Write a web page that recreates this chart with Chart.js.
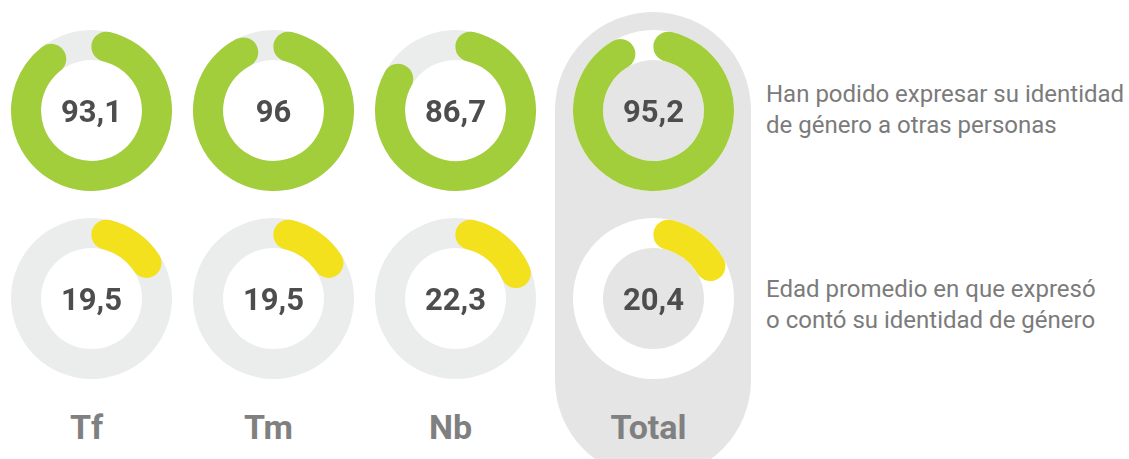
<!DOCTYPE html>
<html lang="es">
<head>
<meta charset="utf-8">
<script src="https://cdn.jsdelivr.net/npm/chart.js@4.4.1/dist/chart.umd.min.js"></script>
<style>
  html, body { margin: 0; padding: 0; background: #ffffff; }
  body { width: 1129px; height: 459px; position: relative; overflow: hidden; font-family: Roboto, "Noto Sans", sans-serif; }
  .pill { position: absolute; left: 555px; top: 12px; width: 196px; height: 466px; border-radius: 98px; background: #e5e5e5; }
  canvas.ring { position: absolute; }
  .grp { position: absolute; width: 140px; text-align: center; font-weight: 700; font-size: 34px; line-height: 34px; color: #808080; }
  .note { position: absolute; left: 766px; font-size: 24px; line-height: 31px; color: #7b7b7b; white-space: nowrap; }
</style>
</head>
<body>
<div class="pill"></div>
<div id="stage"></div>
<script>
// ---- data ----
const groups = ['Tf', 'Tm', 'Nb', 'Total'];
const expressedPct = [93.1, 96, 86.7, 95.2];       // % que han podido expresar su identidad
const avgAge = [19.5, 19.5, 22.3, 20.4];            // edad promedio
const scaleMax = 100;
const rowNotes = [
  ['Han podido expresar su identidad', 'de género a otras personas'],
  ['Edad promedio en que expresó', 'o contó su identidad de género']
];

// ---- layout / style ----
const colCenters = [91.5, 273.5, 455.5, 653.5];
const rowCenters = [110.5, 298.5];
const SIZE = 161;
const rowColors = ['#a3ce3b', '#f4e11e'];
const trackColor = '#ebecec';
const totalTrackColor = '#ffffff';

const trackPlugin = {
  id: 'track',
  beforeDatasetsDraw(chart, args, opts) {
    const arc = chart.getDatasetMeta(0).data[0];
    if (!arc) return;
    const { x, y, innerRadius, outerRadius } = arc.getProps(['x', 'y', 'innerRadius', 'outerRadius'], true);
    const ctx = chart.ctx;
    ctx.save();
    ctx.beginPath();
    ctx.arc(x, y, outerRadius, 0, Math.PI * 2);
    ctx.arc(x, y, innerRadius, 0, Math.PI * 2, true);
    ctx.closePath();
    ctx.fillStyle = opts.color;
    ctx.fill();
    ctx.restore();
  }
};

const centerTextPlugin = {
  id: 'centerText',
  afterDatasetsDraw(chart, args, opts) {
    const arc = chart.getDatasetMeta(0).data[0];
    if (!arc) return;
    const ctx = chart.ctx;
    ctx.save();
    ctx.font = '700 31px Roboto';
    ctx.fillStyle = '#4d4d4d';
    ctx.textAlign = 'center';
    ctx.textBaseline = 'alphabetic';
    ctx.fillText(opts.text, arc.x, arc.y + 11);
    ctx.restore();
  }
};

function fmt(v) { return String(v).replace('.', ','); }

const stage = document.getElementById('stage');
const rows = [expressedPct, avgAge];

rows.forEach((values, r) => {
  values.forEach((v, c) => {
    const cv = document.createElement('canvas');
    cv.className = 'ring';
    cv.width = SIZE; cv.height = SIZE;
    cv.style.left = (colCenters[c] - SIZE / 2) + 'px';
    cv.style.top = (rowCenters[r] - SIZE / 2) + 'px';
    stage.appendChild(cv);
    const isTotal = groups[c] === 'Total';
    new Chart(cv, {
      type: 'doughnut',
      data: {
        labels: ['valor', 'resto'],
        datasets: [{
          data: [v, scaleMax - v],
          backgroundColor: [rowColors[r], 'rgba(0,0,0,0)'],
          borderWidth: 0,
          borderRadius: (ctx) => ctx.dataIndex === 0 ? 40 : 0,
          hoverOffset: 0,
          offset: 0
        }]
      },
      options: {
        responsive: false,
        animation: false,
        events: [],
        cutout: '62.7%',
        rotation: 0,
        layout: { padding: 0 },
        plugins: {
          legend: { display: false },
          tooltip: { enabled: false },
          track: { color: isTotal ? totalTrackColor : trackColor },
          centerText: { text: fmt(v) }
        }
      },
      plugins: [trackPlugin, centerTextPlugin]
    });
  });
});

groups.forEach((g, c) => {
  const d = document.createElement('div');
  d.className = 'grp';
  d.textContent = g;
  d.style.left = (colCenters[c] - 5 - 70) + 'px';
  d.style.top = '410px';
  stage.appendChild(d);
});

const noteTops = [79, 274];
rowNotes.forEach((lines, r) => {
  const d = document.createElement('div');
  d.className = 'note';
  d.style.top = noteTops[r] + 'px';
  lines.forEach((t, i) => {
    if (i) d.appendChild(document.createElement('br'));
    d.appendChild(document.createTextNode(t));
  });
  stage.appendChild(d);
});
</script>
</body>
</html>
